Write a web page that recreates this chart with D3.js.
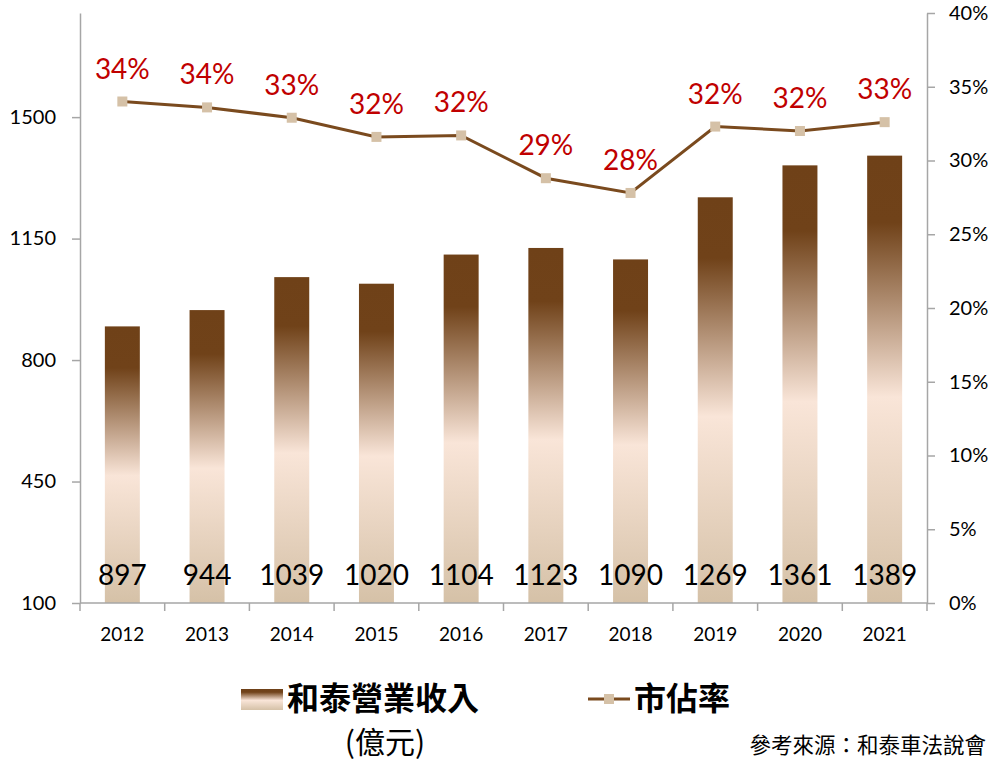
<!DOCTYPE html>
<meta charset="utf-8">
<script src="https://d3js.org/d3.v7.min.js"></script>
<style>
    body { margin: 0; background: #fff; }
    text { font-family: Lato, "Noto Sans CJK TC", sans-serif; }
    .axis path, .axis line { stroke: #a6a6a6; stroke-width: 1.5px; }
    .axis text { fill: #000; font-size: 20px; }
</style>
<div id="my_dataviz"></div>
<script>
    // data
    var years = ["2012", "2013", "2014", "2015", "2016", "2017", "2018", "2019", "2020", "2021"];
    var revenue = [897, 944, 1039, 1020, 1104, 1123, 1090, 1269, 1361, 1389];
    var share = [34.0, 33.6, 32.9, 31.6, 31.7, 28.8, 27.8, 32.3, 32.0, 32.6];
    var leftTicks = [100, 450, 800, 1150, 1500];
    var rightTicks = [0, 5, 10, 15, 20, 25, 30, 35, 40];

    var width = 1000, height = 767;
    var plot = { left: 80, right: 927, top: 13, bottom: 603 };

    var svg = d3.select("#my_dataviz")
        .append("svg")
        .attr("width", width)
        .attr("height", height);

    // gradient for the bars
    var grad = svg.append("defs").append("linearGradient")
        .attr("id", "barGrad")
        .attr("x1", 0).attr("y1", 0).attr("x2", 0).attr("y2", 1);
    grad.append("stop").attr("offset", "0%").attr("stop-color", "#6f4118");
    grad.append("stop").attr("offset", "15%").attr("stop-color", "#704219");
    grad.append("stop").attr("offset", "54%").attr("stop-color", "#f9e5d8");
    grad.append("stop").attr("offset", "100%").attr("stop-color", "#d5c1a7");

    var x = d3.scaleBand()
        .domain(years)
        .range([plot.left, plot.right])
        .paddingInner(0.587)
        .paddingOuter(0.2935);

    var y = d3.scaleLinear()
        .domain([100, 1800])
        .range([plot.bottom, plot.top]);

    var y2 = d3.scaleLinear()
        .domain([0, 40])
        .range([plot.bottom, plot.top]);

    // bars
    svg.append("g")
        .selectAll("rect")
        .data(revenue)
        .enter()
        .append("rect")
        .attr("x", function (d, i) { return x(years[i]); })
        .attr("width", x.bandwidth())
        .attr("y", function (d) { return y(d); })
        .attr("height", function (d) { return y(100) - y(d); })
        .style("fill", "url(#barGrad)");

    // bar value labels
    svg.append("g")
        .selectAll("text")
        .data(revenue)
        .enter()
        .append("text")
        .attr("x", function (d, i) { return x(years[i]) + x.bandwidth() / 2; })
        .attr("y", y(100) - 18)
        .attr("text-anchor", "middle")
        .style("font-size", "28px")
        .text(function (d) { return d; });

    // left axis
    svg.append("g")
        .attr("class", "axis")
        .attr("transform", "translate(" + plot.left + ",0)")
        .call(d3.axisLeft(y).tickValues(leftTicks).tickFormat(d3.format("d"))
            .tickSize(8).tickPadding(16).tickSizeOuter(0));

    // right axis
    svg.append("g")
        .attr("class", "axis")
        .attr("transform", "translate(" + plot.right + ",0)")
        .call(d3.axisRight(y2).tickValues(rightTicks).tickSize(8).tickPadding(14).tickSizeOuter(0)
            .tickFormat(function (d) { return d + "%"; }));

    // bottom axis
    var xAxis = svg.append("g")
        .attr("class", "axis")
        .attr("transform", "translate(0," + plot.bottom + ")");
    xAxis.append("line")
        .attr("x1", plot.left).attr("x2", plot.right)
        .attr("y1", 0).attr("y2", 0);
    var step = x.step();
    xAxis.selectAll(".tk")
        .data(d3.range(years.length + 1))
        .enter()
        .append("line")
        .attr("x1", function (d) { return plot.left + d * step; })
        .attr("x2", function (d) { return plot.left + d * step; })
        .attr("y1", 0).attr("y2", 8);
    xAxis.selectAll(".yl")
        .data(years)
        .enter()
        .append("text")
        .attr("x", function (d) { return x(d) + x.bandwidth() / 2; })
        .attr("y", 38)
        .attr("text-anchor", "middle")
        .style("font-size", "19px")
        .text(function (d) { return d; });

    // market share line
    var line = d3.line()
        .x(function (d, i) { return x(years[i]) + x.bandwidth() / 2; })
        .y(function (d) { return y2(d); });
    svg.append("path")
        .datum(share)
        .attr("d", line)
        .attr("fill", "none")
        .attr("stroke", "#7a4a1e")
        .attr("stroke-width", 3);

    svg.append("g")
        .selectAll("rect")
        .data(share)
        .enter()
        .append("rect")
        .attr("x", function (d, i) { return x(years[i]) + x.bandwidth() / 2 - 5; })
        .attr("y", function (d) { return y2(d) - 5; })
        .attr("width", 10)
        .attr("height", 10)
        .style("fill", "#d5c1a7");

    svg.append("g")
        .selectAll("text")
        .data(share)
        .enter()
        .append("text")
        .attr("x", function (d, i) { return x(years[i]) + x.bandwidth() / 2; })
        .attr("y", function (d) { return y2(d) - 23; })
        .attr("text-anchor", "middle")
        .style("font-size", "28px")
        .style("fill", "#c00000")
        .text(function (d) { return Math.round(d) + "%"; });

    // legend
    var lg = svg.append("g");
    lg.append("rect")
        .attr("x", 241).attr("y", 689)
        .attr("width", 42).attr("height", 21)
        .style("fill", "url(#barGrad)");
    lg.append("text")
        .attr("x", 287).attr("y", 710)
        .style("font-family", "'Noto Sans CJK TC', sans-serif")
        .style("font-size", "32px")
        .style("font-weight", "bold")
        .text("和泰營業收入");
    lg.append("text")
        .attr("x", 385).attr("y", 753)
        .attr("text-anchor", "middle")
        .style("font-family", "'Noto Sans CJK TC', sans-serif")
        .style("font-size", "30px")
        .text("(億元)");
    lg.append("line")
        .attr("x1", 588).attr("x2", 630)
        .attr("y1", 699).attr("y2", 699)
        .attr("stroke", "#7a4a1e")
        .attr("stroke-width", 3);
    lg.append("rect")
        .attr("x", 604).attr("y", 694)
        .attr("width", 10).attr("height", 10)
        .style("fill", "#d5c1a7");
    lg.append("text")
        .attr("x", 634).attr("y", 710)
        .style("font-family", "'Noto Sans CJK TC', sans-serif")
        .style("font-size", "32px")
        .style("font-weight", "bold")
        .text("市佔率");

    // source note
    svg.append("text")
        .attr("x", 986).attr("y", 753)
        .attr("text-anchor", "end")
        .style("font-family", "'Noto Sans CJK TC', sans-serif")
        .style("font-size", "21.5px")
        .text("參考來源：和泰車法說會");
</script>
